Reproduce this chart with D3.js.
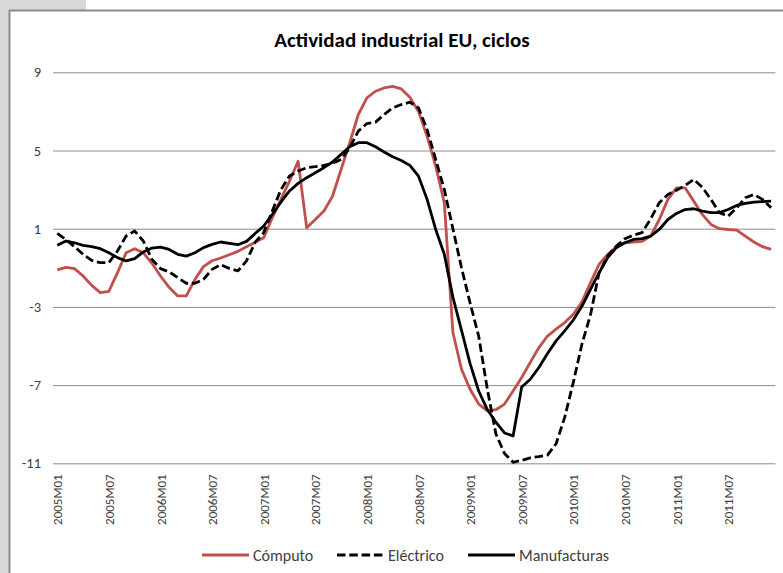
<!DOCTYPE html>
<html>
<head>
<meta charset="utf-8">
<script src="https://cdn.jsdelivr.net/npm/d3@7"></script>
<style>
  body { margin: 0; background: #ffffff; }
  svg { display: block; }
</style>
</head>
<body>
<div id="svgcontainer"></div>
<script>
// months 2005M01 .. 2011M12
const years = [2005, 2006, 2007, 2008, 2009, 2010, 2011];
const months = ["01", "02", "03", "04", "05", "06", "07", "08", "09", "10", "11", "12"];
const categories = [];
years.forEach((y) => months.forEach((m) => categories.push(y + "M" + m)));

const tickLabels = [
  "2005M01", "2005M07", "2006M01", "2006M07", "2007M01", "2007M07", "2008M01",
  "2008M07", "2009M01", "2009M07", "2010M01", "2010M07", "2011M01", "2011M07",
];
const yTicks = [9, 5, 1, -3, -7, -11];

const computo = [
  -1.11, -0.98, -1.04, -1.42, -1.9, -2.27, -2.2, -1.25, -0.23, -0.02, -0.23, -0.77,
  -1.42, -2.0, -2.44, -2.44, -1.6, -0.94, -0.64, -0.5, -0.33, -0.16, 0.08, 0.3,
  0.54, 1.56, 2.5, 3.43, 4.45, 1.05, 1.47, 1.9, 2.66, 4.03, 5.39, 6.84,
  7.69, 8.03, 8.2, 8.28, 8.15, 7.72, 7.0, 5.73, 4.2, 2.33, -4.31, -6.19,
  -7.21, -7.97, -8.32, -8.26, -7.97, -7.3, -6.61, -5.84, -5.08, -4.49, -4.14, -3.8,
  -3.38, -2.75, -1.76, -0.82, -0.31, 0.08, 0.28, 0.32, 0.35, 0.62, 1.47, 2.5,
  3.09, 3.09, 2.41, 1.73, 1.22, 1.0, 0.96, 0.93, 0.62, 0.32, 0.08, -0.06,
];
const electrico = [
  0.76, 0.45, 0.08, -0.31, -0.62, -0.74, -0.74, -0.14, 0.63, 0.88, 0.37, -0.57,
  -1.04, -1.21, -1.5, -1.79, -1.79, -1.59, -1.08, -0.84, -1.04, -1.16, -0.65, 0.3,
  0.8, 1.9, 3.0, 3.7, 3.95, 4.12, 4.17, 4.24, 4.34, 4.54, 5.14, 5.99,
  6.38, 6.45, 6.84, 7.18, 7.35, 7.47, 7.18, 6.07, 4.54, 3.01, 1.0, -1.0,
  -2.8, -4.5, -7.2, -9.5, -10.5, -10.95, -10.85, -10.72, -10.66, -10.58, -10.0, -8.65,
  -6.86, -4.91, -3.4, -1.25, -0.4, 0.11, 0.49, 0.67, 0.8, 1.51, 2.33, 2.75,
  2.97, 3.21, 3.52, 3.12, 2.5, 1.82, 1.64, 2.07, 2.58, 2.75, 2.5, 2.07,
];
const manufacturas = [
  0.15, 0.37, 0.28, 0.15, 0.08, -0.02, -0.23, -0.48, -0.65, -0.53, -0.19, 0.01,
  0.06, -0.06, -0.31, -0.4, -0.23, 0.03, 0.2, 0.32, 0.25, 0.18, 0.35, 0.75,
  1.14, 1.73, 2.36, 2.93, 3.32, 3.61, 3.86, 4.12, 4.41, 4.8, 5.19, 5.4,
  5.4, 5.19, 4.92, 4.68, 4.49, 4.24, 3.69, 2.5, 0.96, -0.31, -2.5, -4.2,
  -5.9, -7.3, -8.25, -8.9, -9.45, -9.6, -7.1, -6.7, -6.1, -5.38, -4.74, -4.23,
  -3.67, -2.97, -2.1, -1.25, -0.48, 0.03, 0.28, 0.45, 0.49, 0.62, 0.96, 1.47,
  1.78, 1.98, 2.02, 1.9, 1.82, 1.82, 1.98, 2.19, 2.29, 2.36, 2.39, 2.41,
];

const seriesNames = ["Cómputo", "Eléctrico", "Manufacturas"];

function drawGraph() {
  const svgWidth = 783;
  const svgHeight = 573;
  const font = "Carlito, Calibri, Lato, sans-serif";

  const svg = d3
    .select("#svgcontainer")
    .append("svg")
    .attr("width", svgWidth)
    .attr("height", svgHeight);

  // grey frame around the chart object (spreadsheet background)
  svg.append("rect").attr("x", 0).attr("y", 0).attr("width", 86).attr("height", 10).attr("fill", "#d9d9d9");
  svg.append("rect").attr("x", 0).attr("y", 0).attr("width", 9).attr("height", svgHeight).attr("fill", "#d9d9d9");
  svg.append("line")
    .attr("x1", 9).attr("x2", svgWidth).attr("y1", 10.5).attr("y2", 10.5)
    .attr("stroke", "#8a8a8a").attr("stroke-width", 2);
  svg.append("line")
    .attr("x1", 9.5).attr("x2", 9.5).attr("y1", 10).attr("y2", svgHeight)
    .attr("stroke", "#8a8a8a").attr("stroke-width", 2);

  // title
  svg.append("text")
    .attr("x", 402)
    .attr("y", 47)
    .attr("text-anchor", "middle")
    .attr("font-family", font)
    .attr("font-weight", "bold")
    .attr("font-size", "21px")
    .attr("fill", "#000000")
    .text("Actividad industrial EU, ciclos");

  const xScale = d3.scalePoint().domain(categories).range([53, 775.4]).padding(0.5);
  const yScale = d3.scaleLinear().domain([-11, 9]).range([463.3, 72.3]);

  // y gridlines + labels
  const yAxis = svg.append("g")
    .attr("transform", "translate(53,0)")
    .call(d3.axisLeft(yScale).tickValues(yTicks).tickSize(-722.4).tickPadding(12).tickFormat((d) => d));
  yAxis.select(".domain").remove();
  yAxis.selectAll(".tick line").attr("stroke", "#8c8c8c").attr("stroke-width", 1);
  yAxis.selectAll(".tick text")
    .attr("font-family", font)
    .attr("font-size", "14.5px")
    .attr("fill", "#404040");

  // x labels, vertical
  const xAxis = svg.append("g")
    .attr("transform", "translate(0,463.3)")
    .call(d3.axisBottom(xScale).tickValues(tickLabels).tickSize(0));
  xAxis.select(".domain").remove();
  xAxis.selectAll(".tick text")
    .attr("font-family", font)
    .attr("font-size", "13px")
    .attr("fill", "#404040")
    .attr("text-anchor", "end")
    .attr("dy", "0.35em")
    .attr("transform", "translate(0,11) rotate(-90)")
    .attr("x", 0)
    .attr("y", 0);

  const series = [
    { name: seriesNames[0], values: computo, color: "#c0504d", dash: null },
    { name: seriesNames[1], values: electrico, color: "#000000", dash: "8.5,3.8" },
    { name: seriesNames[2], values: manufacturas, color: "#000000", dash: null },
  ];

  const line = d3
    .line()
    .x((d, i) => xScale(categories[i]))
    .y((d) => yScale(d));

  svg.selectAll(".serie")
    .data(series)
    .enter()
    .append("path")
    .attr("class", "serie")
    .attr("fill", "none")
    .attr("stroke", (d) => d.color)
    .attr("stroke-width", 2.8)
    .attr("stroke-linejoin", "round")
    .attr("stroke-dasharray", (d) => d.dash)
    .attr("d", (d) => line(d.values));

  // legend
  const legendPos = [202, 337, 468];
  const legend = svg.selectAll(".legend")
    .data(series)
    .enter()
    .append("g")
    .attr("class", "legend")
    .attr("transform", (d, i) => `translate(${legendPos[i]},555)`);
  legend.append("line")
    .attr("x1", 0).attr("x2", 47).attr("y1", 0).attr("y2", 0)
    .attr("stroke", (d) => d.color)
    .attr("stroke-width", 2.8)
    .attr("stroke-dasharray", (d) => d.dash);
  legend.append("text")
    .attr("x", 51)
    .attr("y", 0)
    .attr("dy", "0.35em")
    .attr("font-family", font)
    .attr("font-size", "16px")
    .attr("fill", "#404040")
    .text((d) => d.name);
}

drawGraph();
</script>
</body>
</html>
